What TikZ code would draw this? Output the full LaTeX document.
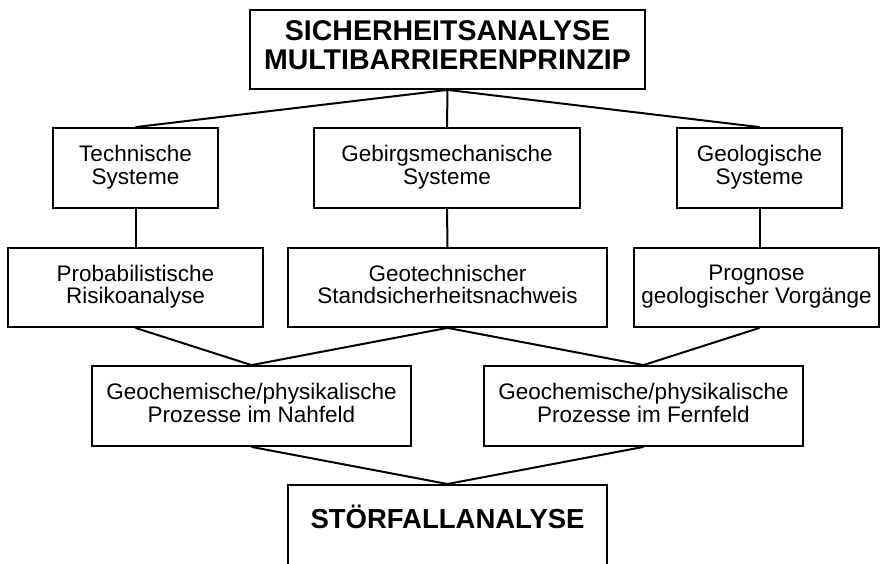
\documentclass[tikz,border=0pt]{standalone}
\usepackage{fontspec}
\setmainfont{Liberation Sans}
\begin{document}
\begin{tikzpicture}[
    x=1pt,
    y=-1pt,
    box/.style={draw=black, line width=1.8pt, align=center, inner sep=0pt,
      minimum height=80pt, font=\fontsize{22.5}{22.5}\selectfont,
      execute at begin node=\strut, execute at end node=\strut},
    head/.style={box, font=\fontsize{28.5}{29.5}\selectfont\bfseries},
    link/.style={line width=2pt}
  ]
    \useasboundingbox (0,0) rectangle (881,563);
    \clip (0,0) rectangle (881,563);
    % top
    \node[head, minimum width=395pt, minimum height=79pt] (sicher) at (447.5,49.5) {SICHERHEITSANALYSE\\MULTIBARRIERENPRINZIP};
    % systems
    \node[box, minimum width=165pt] (technik) at (135.5,168) {Technische\\Systeme};
    \node[box, minimum width=266pt] (gebirge) at (447,168) {Gebirgsmechanische\\Systeme};
    \node[box, minimum width=165pt] (geologie) at (759.5,168) {Geologische\\Systeme};
    % methods
    \node[box, minimum width=255pt, minimum height=79pt] (risiko) at (135.5,287.5) {Probabilistische\\Risikoanalyse};
    \node[box, minimum width=319pt, minimum height=79pt] (stand) at (447.5,287.5) {Geotechnischer\\Standsicherheitsnachweis};
    \node[box, minimum width=245pt, minimum height=79pt] (prognose) at (756.5,287.5) {Prognose\\geologischer Vorgänge};
    % processes
    \node[box, minimum width=319pt] (nah) at (251.5,406) {Geochemische/physikalische\\Prozesse im Nahfeld};
    \node[box, minimum width=319pt] (fern) at (643.5,406) {Geochemische/physikalische\\Prozesse im Fernfeld};
    % bottom, cut by the page edge
    \node[box, font=\fontsize{27.5}{27.5}\selectfont\bfseries, minimum width=319pt, anchor=north,
      execute at begin node={}, execute at end node={},
      inner ysep=23.5pt, text height=19.6pt, text depth=60pt] (stoerfall) at (447.5,484) {STÖRFALLANALYSE};
    \draw[link] (sicher.south) -- (technik.north);
    \draw[link] (sicher.south) -- (gebirge.north);
    \draw[link] (sicher.south) -- (geologie.north);
    \draw[link] (technik.south) -- (risiko.north);
    \draw[link] (gebirge.south) -- (stand.north);
    \draw[link] (geologie.south) -- (geologie.south |- prognose.north);
    \draw[link] (risiko.south) -- (nah.north);
    \draw[link] (stand.south) -- (nah.north);
    \draw[link] (stand.south) -- (fern.north);
    \draw[link] (prognose.south -| geologie.south) -- (fern.north);
    \draw[link] (nah.south) -- (stoerfall.north);
    \draw[link] (fern.south) -- (stoerfall.north);
  \end{tikzpicture}
\end{document}
